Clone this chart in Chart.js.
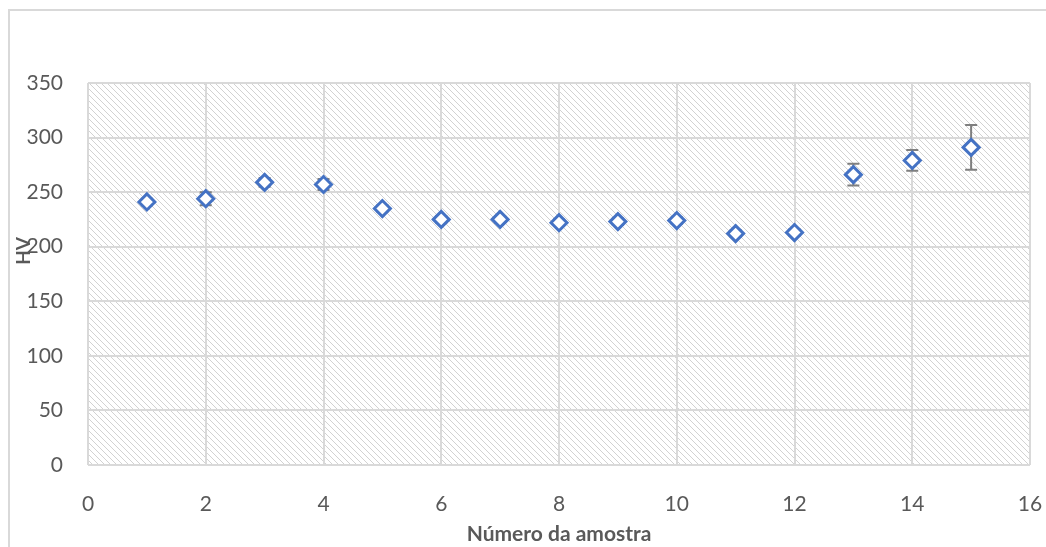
<!DOCTYPE html>
<html>
<head>
<meta charset="utf-8">
<script src="https://cdn.jsdelivr.net/npm/chart.js@4/dist/chart.umd.min.js"></script>
<style>
  body { margin: 0; background: #fff; }
  #wrap { position: relative; width: 1046px; height: 547px; }
</style>
</head>
<body>
<div id="wrap"><canvas id="hv-chart" width="1046" height="547"></canvas></div>
<script>
const sampleNo = [1, 2, 3, 4, 5, 6, 7, 8, 9, 10, 11, 12, 13, 14, 15];
const hvMean = [241, 244, 259, 257, 235, 225, 225, 222, 223, 224, 212, 213, 266, 279, 291];
const hvErr = [3, 6, 4, 5, 3, 3, 3, 3, 3, 3, 3, 3, 10, 9.5, 20.5];
const xTicks = [0, 2, 4, 6, 8, 10, 12, 14, 16];
const yTicks = [0, 50, 100, 150, 200, 250, 300, 350];

const grey = '#595959';
const gridGrey = '#d9d9d9';

// diagonal hatch for the plot area
function makeHatch() {
    const c = document.createElement('canvas');
    c.width = 6; c.height = 6;
    const g = c.getContext('2d');
    g.fillStyle = '#d2d2d2';
    for (let i = 0; i < 6; i++) {
        g.fillRect(i, i, 1, 1);
    }
    return g.createPattern(c, 'repeat');
}

const backdrop = {
    id: 'backdrop',
    beforeDraw(chart) {
        const { ctx, chartArea: a } = chart;
        ctx.save();
        // outer frame (left and top edges only visible)
        ctx.strokeStyle = gridGrey;
        ctx.lineWidth = 2;
        ctx.beginPath();
        ctx.moveTo(9, 547);
        ctx.lineTo(9, 10);
        ctx.lineTo(1046, 10);
        ctx.stroke();
        ctx.fillStyle = makeHatch();
        ctx.fillRect(a.left, a.top, a.right - a.left, a.bottom - a.top);
        ctx.restore();
    }
};

const errorBars = {
    id: 'errorBars',
    beforeDatasetsDraw(chart) {
        const { ctx, scales: { x, y } } = chart;
        ctx.save();
        ctx.strokeStyle = '#7f7f7f';
        ctx.lineWidth = 2;
        sampleNo.forEach((n, i) => {
            const px = x.getPixelForValue(n);
            const top = y.getPixelForValue(hvMean[i] + hvErr[i]);
            const bot = y.getPixelForValue(hvMean[i] - hvErr[i]);
            ctx.beginPath();
            ctx.moveTo(px, top); ctx.lineTo(px, bot);
            ctx.moveTo(px - 6, top); ctx.lineTo(px + 6, top);
            ctx.moveTo(px - 6, bot); ctx.lineTo(px + 6, bot);
            ctx.stroke();
        });
        ctx.restore();
    }
};

new Chart(document.querySelector('#hv-chart').getContext('2d'), {
    type: 'scatter',
    data: {
        datasets: [{
            label: 'HV',
            data: sampleNo.map((n, i) => ({ x: n, y: hvMean[i] })),
            pointStyle: 'rectRot',
            pointRadius: 8,
            pointBorderWidth: 3,
            pointBorderColor: '#4472c4',
            pointBackgroundColor: '#ffffff',
            pointHoverRadius: 8
        }]
    },
    options: {
        responsive: false,
        animation: false,
        devicePixelRatio: 1,
        layout: { padding: { left: 12, top: 83, right: 16, bottom: 0 } },
        plugins: { legend: { display: false }, tooltip: { enabled: false } },
        scales: {
            x: {
                type: 'linear',
                min: 0, max: 16,
                afterBuildTicks: s => { s.ticks = xTicks.map(v => ({ value: v })); },
                afterFit: s => { s.height = 82; s.paddingLeft = 0; s.paddingRight = 0; },
                grid: { color: gridGrey, lineWidth: 2, drawTicks: false },
                border: { display: false },
                ticks: { color: grey, font: { family: 'Lato', size: 21 }, padding: 27, maxRotation: 0 },
                title: {
                    display: true, text: 'Número da amostra', color: grey,
                    font: { family: 'Lato', size: 21, weight: 'bold' },
                    padding: { top: 0, bottom: 0 }
                }
            },
            y: {
                min: 0, max: 350,
                afterBuildTicks: s => { s.ticks = yTicks.map(v => ({ value: v })); },
                afterFit: s => { s.width = 76; s.paddingTop = 0; s.paddingBottom = 0; },
                grid: { color: gridGrey, lineWidth: 2, drawTicks: false },
                border: { display: false },
                ticks: { color: grey, font: { family: 'Lato', size: 21 }, padding: 25 },
                title: {
                    display: true, text: '          HV', color: grey,
                    font: { family: 'Lato', size: 19, weight: 'bold' },
                    padding: 0
                }
            }
        }
    },
    plugins: [backdrop, errorBars]
});
</script>
</body>
</html>
